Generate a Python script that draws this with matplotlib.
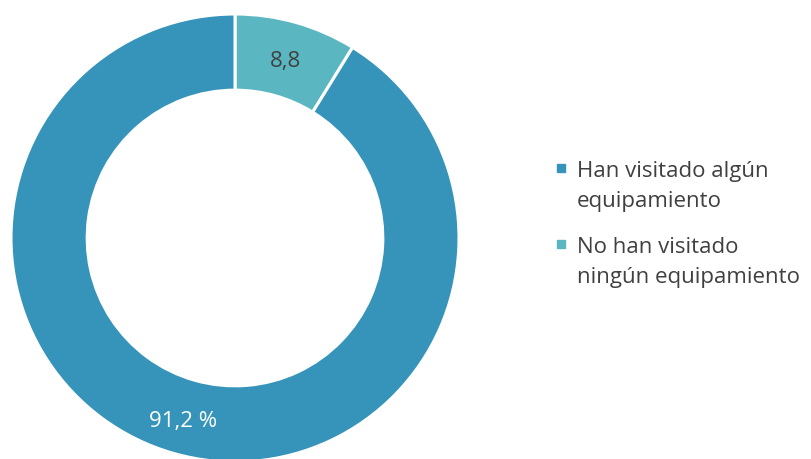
import matplotlib
matplotlib.use("Agg")
import matplotlib.pyplot as plt
from matplotlib.patches import Rectangle
import numpy as np

# datos
etiquetas = ["No han visitado\nningún equipamiento", "Han visitado algún\nequipamiento"]
valores = [8.8, 91.2]
textos = ["8,8", "91,2 %"]
colores = ["#5ab7c1", "#3694ba"]
leyenda_orden = [1, 0]

W, H = 811, 459
fig = plt.figure(figsize=(W / 100, H / 100), dpi=100)

cx, cy, r = 235, 238, 224
ax = fig.add_axes([(cx - r) / W, (H - cy - r) / H, 2 * r / W, 2 * r / H])

wedges, _ = ax.pie(valores, colors=colores, startangle=90, counterclock=False,
                   radius=1, wedgeprops=dict(width=0.34, edgecolor="white", linewidth=2.2))
ax.set_xlim(-1, 1)
ax.set_ylim(-1, 1)
ax.axis("off")

fuente = "Open Sans"
tam = 16

# etiquetas de los sectores
ang = 90
for i, v in enumerate(valores):
    a0 = ang
    ang = ang - v / 100 * 360
    mid = np.deg2rad((a0 + ang) / 2)
    d = 0.82 if i == 0 else 0.85
    ax.text(d * np.cos(mid), d * np.sin(mid), textos[i], ha="center", va="center",
            fontsize=tam, family=fuente,
            color="#404040" if i == 0 else "white")

# leyenda
y_base = [177, 253]
for k, idx in enumerate(leyenda_orden):
    yb = y_base[k]
    fig.patches.append(Rectangle((557 / W, (H - yb + 5) / H), 8 / W, 8 / H,
                                 transform=fig.transFigure, color=colores[idx]))
    lineas = etiquetas[idx].split("\n")
    for j, t in enumerate(lineas):
        fig.text(577 / W, (H - yb - 30 * j) / H, t, ha="left", va="baseline",
                 fontsize=tam, family=fuente, color="#404040")

fig.savefig("out.png", dpi=100)
